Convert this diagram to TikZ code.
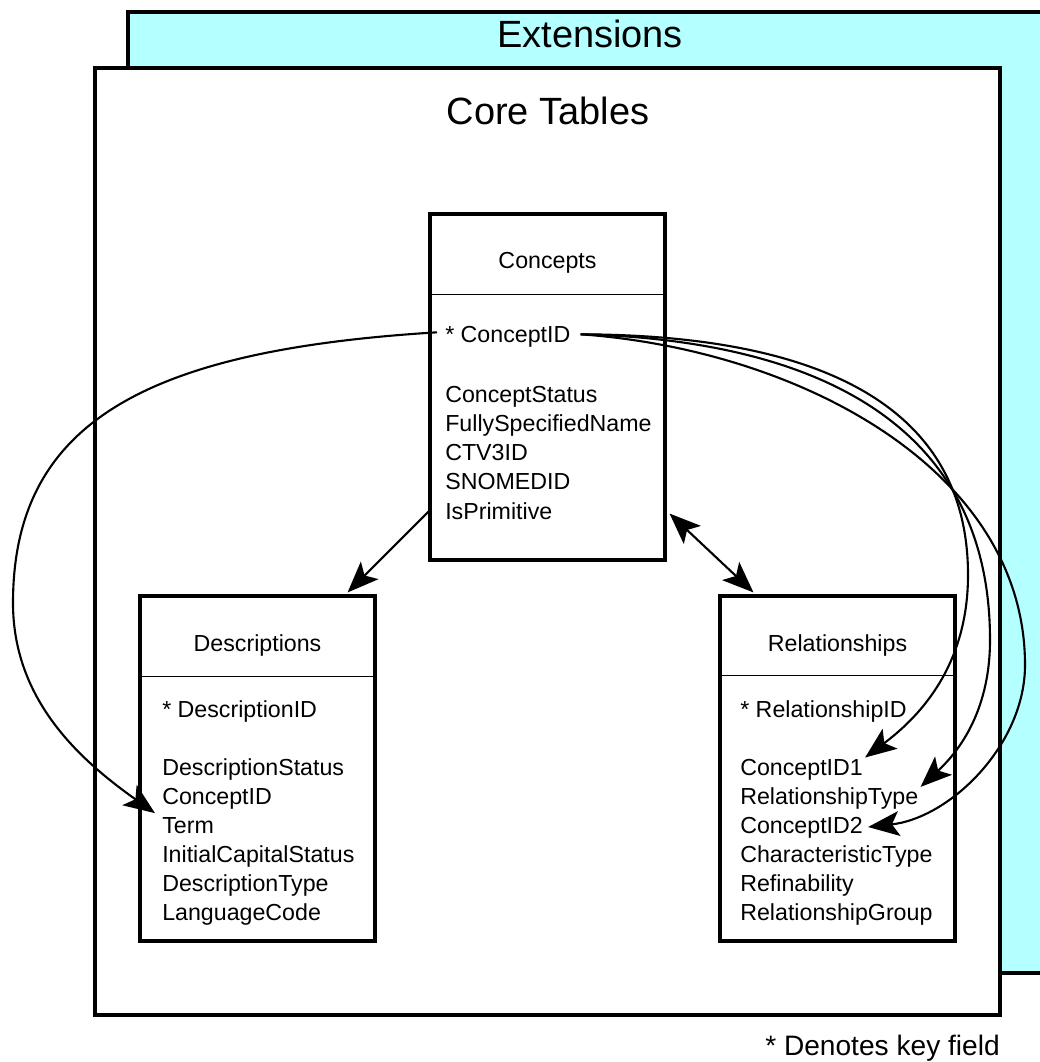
\documentclass[tikz,border=0pt]{standalone}
\usepackage{fontspec}
\setmainfont{Liberation Sans}
\usetikzlibrary{arrows.meta,calc,fit}
\definecolor{extcyan}{HTML}{B4FFFF}
\begin{document}
\begin{tikzpicture}[x=0.025cm,y=-0.025cm,
  frame/.style={draw=black,line width=2.2pt},
  tablebox/.style={draw=black,line width=2.2pt,fill=white,inner sep=0pt},
  divider/.style={line width=0.9pt},
  tabletitle/.style={font=\fontsize{16.5}{20}\selectfont,anchor=base,inner sep=0pt},
  field/.style={font=\fontsize{16.5}{20}\selectfont,anchor=base west,inner sep=0pt},
  biglabel/.style={font=\fontsize{27}{32}\selectfont,anchor=base,inner sep=0pt},
  notelabel/.style={font=\fontsize{20}{24}\selectfont,anchor=base west,inner sep=0pt},
  link/.style={line width=1.5pt,-{Stealth[length=0.78cm,width=0.62cm,inset=0.18cm]}},
  twoway/.style={line width=1.5pt,{Stealth[length=0.78cm,width=0.62cm,inset=0.18cm]}-{Stealth[length=0.78cm,width=0.62cm,inset=0.18cm]}}]
\useasboundingbox (0,0) rectangle (1039,1062);

% Extensions layer, running on past the right edge
\fill[extcyan] (128,12) rectangle (1060,973);
\draw[frame] (1060,12) -- (128,12) -- (128,973) -- (1060,973);
\node[biglabel] (exttitle) at (590,48) {Extensions};

% Core tables layer
\fill[white] (95,68) rectangle (1000,1015);
\draw[frame] (95,68) rectangle (1000,1015);
\node[biglabel] (coretitle) at (548,125) {Core Tables};

% Concepts table
\coordinate (conA) at (430,214);
\coordinate (conB) at (665,560);
\node[tablebox,fit=(conA)(conB)] (concepts) {};
\draw[divider] ($(concepts.north west)+(0,82)$) -- ($(concepts.north east)+(0,82)$);
\node[tabletitle] (contitle) at ($(concepts.north)+(0,56)$) {Concepts};
\node[field] (cid) at (445,343) {* ConceptID};
\node[field] (cstat) at (445,402) {ConceptStatus};
\node[field] (cfsn) at (445,431.3) {FullySpecifiedName};
\node[field] (cctv) at (445,460.6) {CTV3ID};
\node[field] (csno) at (445,489.9) {SNOMEDID};
\node[field] (cprim) at (445,519.2) {IsPrimitive};

% Descriptions table
\coordinate (desA) at (140,596);
\coordinate (desB) at (375,941);
\node[tablebox,fit=(desA)(desB)] (descriptions) {};
\draw[divider] ($(descriptions.north west)+(0,82)$) -- ($(descriptions.north east)+(0,82)$);
\node[tabletitle] (destitle) at ($(descriptions.north)+(0,57)$) {Descriptions};
\node[field] (did) at (162,717) {* DescriptionID};
\node[field] (dstat) at (162,775) {DescriptionStatus};
\node[field] (dcid) at (162,804) {ConceptID};
\node[field] (term) at (162,833) {Term};
\node[field] (dcap) at (162,862) {InitialCapitalStatus};
\node[field] (dtype) at (162,891) {DescriptionType};
\node[field] (dlang) at (162,920) {LanguageCode};

% Relationships table
\coordinate (relA) at (720,596);
\coordinate (relB) at (955,941);
\node[tablebox,fit=(relA)(relB)] (relationships) {};
\draw[divider] ($(relationships.north west)+(0,81)$) -- ($(relationships.north east)+(0,81)$);
\node[tabletitle] (reltitle) at ($(relationships.north)+(0,57)$) {Relationships};
\node[field] (rid) at (740,717) {* RelationshipID};
\node[field] (r1) at (740,775) {ConceptID1};
\node[field] (rtype) at (740,804) {RelationshipType};
\node[field] (r2) at (740,833) {ConceptID2};
\node[field] (rchar) at (740,862) {CharacteristicType};
\node[field] (rref) at (740,891) {Refinability};
\node[field] (rgrp) at (740,920) {RelationshipGroup};

% Footnote
\node[notelabel] (keynote) at (765,1055) {* Denotes key field};

% Table-to-table links
\draw[link] ($(concepts.south west)+(0,-50)$) -- ($(descriptions.north east)+(-29,-2)$);
\draw[twoway] ($(concepts.south east)+(3,-48)$) -- ($(relationships.north west)+(35,-2)$);

% ConceptID references
\draw[link] ($(cid.west)+(-8,-5)$) .. controls (150,350) and (13,420) .. (13,603)
  .. controls (13,700) and (80,760) .. ($(term.west)+(-7,-12)$);
\draw[link] ($(cid.east)+(10,-3)$) .. controls (810,335) and (968,400) .. (968,575)
  .. controls (968,670) and (915,720) .. ($(r1.north east)+(2,-1)$);
\draw[link] ($(cid.east)+(10,-3)$) .. controls (810,340) and (990,420) .. (990,640)
  .. controls (990,715) and (955,755) .. ($(rtype.north east)+(2,0)$);
\draw[link] ($(cid.east)+(10,-3)$) .. controls (800,350) and (1025,470) .. (1025,665)
  .. controls (1025,745) and (950,818) .. ($(r2.base east)+(5,-6)$);
\end{tikzpicture}
\end{document}
